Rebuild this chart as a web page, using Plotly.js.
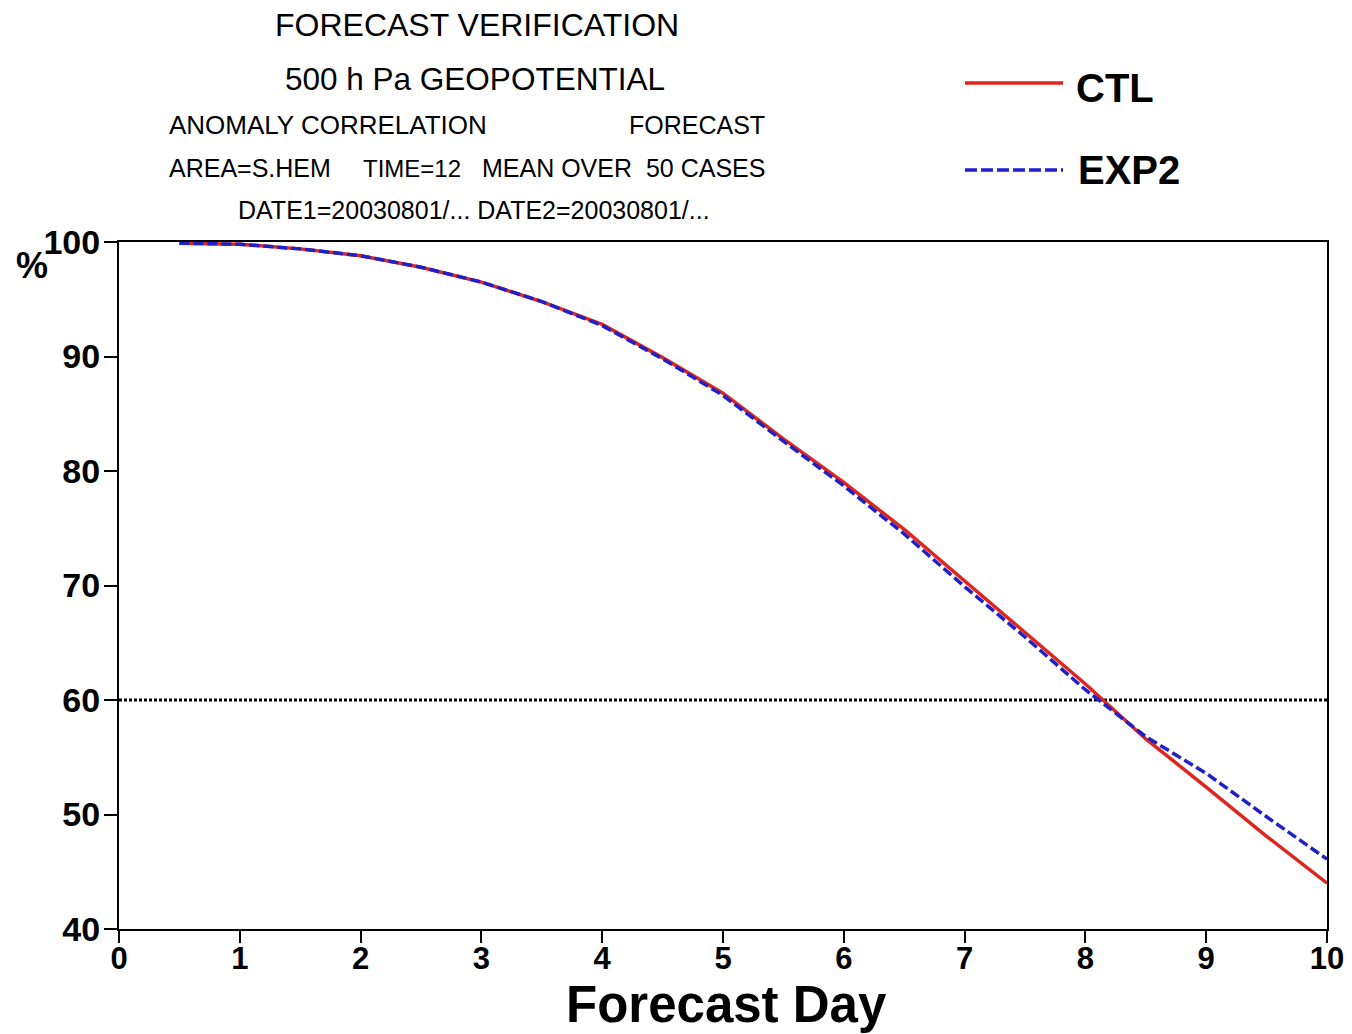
<!DOCTYPE html>
<html>
<head>
<meta charset="utf-8">
<script src="https://cdn.plot.ly/plotly-3.0.1.min.js"></script>
<style>html,body{margin:0;padding:0;background:#fff;}#chart{width:1352px;height:1034px;}</style>
</head>
<body>
<div id="chart"></div>
<script>
// Forecast day (12-hourly steps)
const forecastDay = [0.5, 1, 1.5, 2, 2.5, 3, 3.5, 4, 4.5, 5, 5.5, 6, 6.5, 7, 7.5, 8, 8.5, 9, 9.5, 10];
// Anomaly correlation (%)
const ctlValues  = [99.9, 99.8, 99.4, 98.8, 97.8, 96.5, 94.8, 92.8, 89.9, 86.8, 82.8, 79.0, 74.9, 70.4, 66.0, 61.4, 56.6, 52.4, 48.1, 44.0];
const exp2Values = [99.9, 99.8, 99.4, 98.8, 97.8, 96.5, 94.8, 92.7, 89.8, 86.6, 82.6, 78.7, 74.5, 69.9, 65.5, 60.9, 56.8, 53.6, 49.8, 46.1];
const refLevel = 60;
const xTicks = [0,1,2,3,4,5,6,7,8,9,10];
const yTicks = [40,50,60,70,80,90,100];
const seriesNames = ["CTL", "EXP2"];
const xTitle = "Forecast Day";

const RED = "rgb(222,38,30)";
const BLUE = "rgb(32,32,200)";
const FONT = "Liberation Sans, Arial, sans-serif";

const traces = [
  {x: [0, 10], y: [refLevel, refLevel], mode: "lines", line: {color: "#000", width: 3, dash: "3px,2px"}, hoverinfo: "skip", showlegend: false},
  {x: forecastDay, y: ctlValues, name: seriesNames[0], mode: "lines", line: {color: RED, width: 3.5}, showlegend: false},
  {x: forecastDay, y: exp2Values, name: seriesNames[1], mode: "lines", line: {color: BLUE, width: 3.5, dash: "10px,4px"}, showlegend: false}
];

function ann(text, x, y, size, xanchor, weight, yanchor) {
  return {text: text, x: x, y: y, xref: "paper", yref: "paper", xanchor: xanchor || "center", yanchor: yanchor || "middle",
          showarrow: false, borderpad: 0, font: {family: FONT, size: size, color: "#000", weight: weight || "normal"}};
}

const layout = {
  width: 1352, height: 1034,
  margin: {l: 119, r: 25, t: 242, b: 105},
  paper_bgcolor: "#fff", plot_bgcolor: "#fff",
  showlegend: false,
  xaxis: {
    range: [0, 10], tickvals: xTicks, ticktext: xTicks.map(String),
    ticks: "outside", ticklen: 12, tickwidth: 2, tickcolor: "#000",
    ticklabelstandoff: -11,
    showline: true, linecolor: "#000", linewidth: 2, mirror: true,
    showgrid: false, zeroline: false,
    tickfont: {family: FONT, size: 31, color: "#000", weight: "bold"}
  },
  yaxis: {
    range: [40, 100], tickvals: yTicks, ticktext: yTicks.map(String),
    ticks: "outside", ticklen: 13, tickwidth: 2, tickcolor: "#000",
    ticklabelstandoff: -3,
    showline: true, linecolor: "#000", linewidth: 2, mirror: true,
    showgrid: false, zeroline: false,
    tickfont: {family: FONT, size: 34, color: "#000", weight: "bold"}
  },
  annotations: [
    ann("FORECAST VERIFICATION", 0.2964, 1.3159, 32),
    ann("500 h Pa GEOPOTENTIAL", 0.2947, 1.2373, 31.5),
    ann("ANOMALY CORRELATION", 0.0406, 1.1703, 26, "left"),
    ann("FORECAST", 0.5356, 1.1703, 25, "right"),
    ann("AREA=S.HEM", 0.0406, 1.1077, 25, "left"),
    ann("TIME=12", 0.2012, 1.1077, 24, "left"),
    ann("MEAN OVER  50 CASES", 0.5356, 1.1077, 25, "right"),
    ann("DATE1=20030801/... DATE2=20030801/...", 0.2939, 1.0466, 25),
    ann("%", -0.072, 0.9665, 36, "center", "bold"),
    ann("CTL", 0.7914, 1.2242, 40, "left", "bold"),
    ann("EXP2", 0.7930, 1.1048, 40, "left", "bold"),
    ann(xTitle, 0.5033, -0.1528, 51, "center", "bold", "bottom")
  ],
  shapes: [
    {type: "line", xref: "paper", yref: "paper", x0: 0.7003, x1: 0.7815, y0: 1.2314, y1: 1.2314, line: {color: RED, width: 3.5}},
    {type: "line", xref: "paper", yref: "paper", x0: 0.7003, x1: 0.7815, y0: 1.1048, y1: 1.1048, line: {color: BLUE, width: 3.5, dash: "12px,4px"}}
  ]
};

Plotly.newPlot("chart", traces, layout, {displayModeBar: false, staticPlot: true});
</script>
</body>
</html>
